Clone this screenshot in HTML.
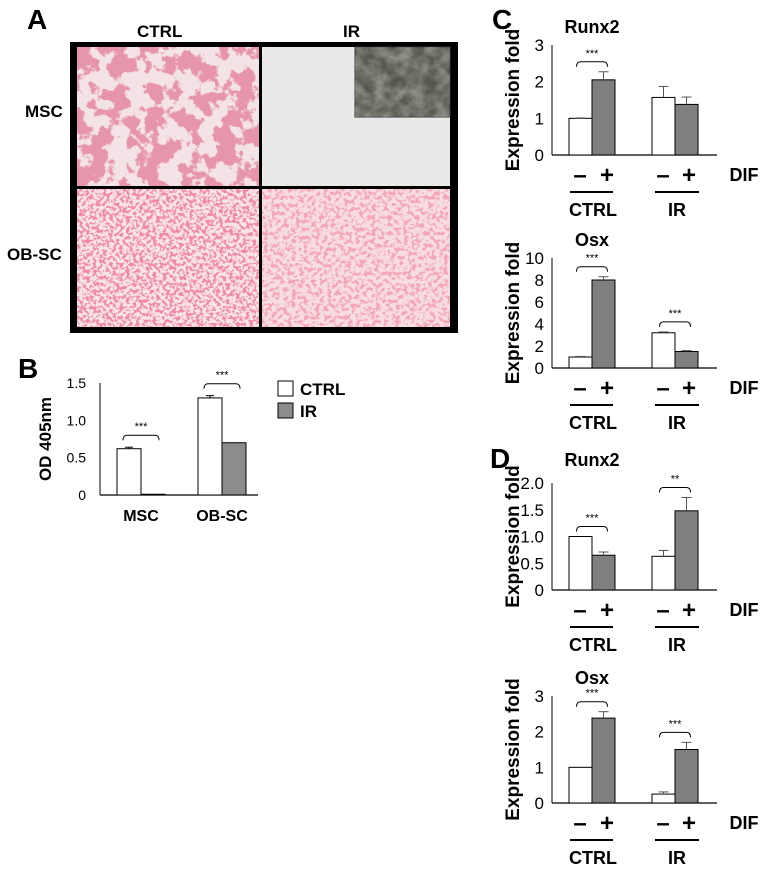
<!DOCTYPE html>
<html><head><meta charset="utf-8">
<style>
html,body{margin:0;padding:0;background:#fff;}
body{width:765px;height:894px;position:relative;overflow:hidden;font-family:"Liberation Sans",Arial,sans-serif;}
.abs{position:absolute;}
.lbl{position:absolute;font-weight:bold;color:#000;}
</style></head><body>
<div class="lbl" style="left:27px;top:4px;font-size:28px;">A</div>
<div class="lbl" style="left:137px;top:22px;font-size:17px;">CTRL</div>
<div class="lbl" style="left:343px;top:22px;font-size:17px;">IR</div>
<div class="lbl" style="left:25px;top:102px;font-size:17px;">MSC</div>
<div class="lbl" style="left:7px;top:245px;font-size:17px;">OB-SC</div>
<div class="abs" style="left:70px;top:42px;width:388px;height:291px;background:#000;"></div>

<svg width="765" height="894" style="position:absolute;left:0;top:0;" xmlns="http://www.w3.org/2000/svg">
  <defs>
    <filter id="blotch" x="0" y="0" width="100%" height="100%">
      <feTurbulence type="fractalNoise" baseFrequency="0.055" numOctaves="4" seed="3"/>
      <feColorMatrix type="matrix" values="0 0 0 0 0.80  0 0 0 0 0.30  0 0 0 0 0.41  16 0 0 0 -7.6"/>
    </filter>
    <filter id="speck1" x="0" y="0" width="100%" height="100%">
      <feTurbulence type="fractalNoise" baseFrequency="0.3" numOctaves="3" seed="7"/>
      <feColorMatrix type="matrix" values="0 0 0 0 0.88  0 0 0 0 0.25  0 0 0 0 0.37  10 0 0 0 -4.8"/>
    </filter>
    <filter id="speck2" x="0" y="0" width="100%" height="100%">
      <feTurbulence type="fractalNoise" baseFrequency="0.25" numOctaves="3" seed="11"/>
      <feColorMatrix type="matrix" values="0 0 0 0 0.91  0 0 0 0 0.38  0 0 0 0 0.47  8 0 0 0 -3.9"/>
    </filter>
    <filter id="grain" x="0" y="0" width="100%" height="100%">
      <feTurbulence type="fractalNoise" baseFrequency="0.08" numOctaves="3" seed="5"/>
      <feColorMatrix type="matrix" values="0 0 0 0 0.7  0 0 0 0 0.7  0 0 0 0 0.65  0.8 0 0 0 -0.2"/>
    </filter>
  </defs>
  <g>
    <rect x="77" y="47" width="182" height="139" fill="#f3e3e6"/>
    <rect x="77" y="47" width="182" height="139" filter="url(#blotch)"/>
  </g>
  <g>
    <rect x="262" y="47" width="188" height="139" fill="#ebe9e7"/>
  </g>
  <g>
    <rect x="355" y="47" width="95" height="70" fill="#55574f" stroke="#333" stroke-width="1"/>
    <rect x="355" y="47" width="95" height="70" filter="url(#grain)"/>
  </g>
  <g>
    <rect x="77" y="189" width="182" height="138" fill="#f7e4e8"/>
    <rect x="77" y="189" width="182" height="138" filter="url(#speck1)"/>
  </g>
  <g>
    <rect x="262" y="189" width="188" height="138" fill="#f6dde2"/>
    <rect x="262" y="189" width="188" height="138" filter="url(#speck2)"/>
  </g>
</svg>

<div class="lbl" style="left:18px;top:353px;font-size:28px;">B</div>
<div class="lbl" style="left:492px;top:4px;font-size:28px;">C</div>
<div class="lbl" style="left:490px;top:443px;font-size:28px;">D</div>

<svg id="svg" width="765" height="894" style="position:absolute;left:0;top:0;" xmlns="http://www.w3.org/2000/svg" font-family="Liberation Sans, Arial, sans-serif"></svg>

<script>
// Panel B data
const bCategories = ["MSC","OB-SC"];
const bCtrl = [0.62, 1.30];
const bCtrlErr = [0.02, 0.03];
const bIR = [0.01, 0.70];
const bIRErr = [0.005, 0];
const bTicks = [0, 0.5, 1.0, 1.5];
const bTickLabels = ["0","0.5","1.0","1.5"];
const bSig = ["***","***"];

// Panel C / D data: order [CTRL-, CTRL+, IR-, IR+]
const cRunx2 = [1.0, 2.05, 1.57, 1.38];
const cRunx2Err = [0.01, 0.22, 0.3, 0.2];
const cRunx2Ticks = [0,1,2,3];
const cRunx2TickLabels = ["0","1","2","3"];
const cRunx2Sig = ["***", ""];

const cOsx = [1.0, 8.0, 3.2, 1.5];
const cOsxErr = [0.05, 0.3, 0.08, 0.08];
const cOsxTicks = [0,2,4,6,8,10];
const cOsxTickLabels = ["0","2","4","6","8","10"];
const cOsxSig = ["***","***"];

const dRunx2 = [1.0, 0.65, 0.63, 1.48];
const dRunx2Err = [0, 0.06, 0.11, 0.25];
const dRunx2Ticks = [0,0.5,1.0,1.5,2.0];
const dRunx2TickLabels = ["0","0.5","1.0","1.5","2.0"];
const dRunx2Sig = ["***","**"];

const dOsx = [1.0, 2.38, 0.25, 1.5];
const dOsxErr = [0, 0.18, 0.06, 0.2];
const dOsxTicks = [0,1,2,3];
const dOsxTickLabels = ["0","1","2","3"];
const dOsxSig = ["***","***"];

const NS = "http://www.w3.org/2000/svg";
const svg = document.getElementById("svg");
function mk(tag, attrs, parent){
  const e = document.createElementNS(NS, tag);
  for (const k in attrs) e.setAttribute(k, attrs[k]);
  (parent||svg).appendChild(e);
  return e;
}
function txt(x,y,s,size,anchor,weight,parent){
  const t = mk("text",{x:x,y:y,"font-size":size,"text-anchor":anchor||"middle","font-weight":weight||"normal",fill:"#000"},parent);
  t.textContent = s;
  return t;
}
function bracket(x1,x2,y,stars,g){
  const p = mk("path",{d:`M${x1} ${y+5} Q${x1} ${y} ${x1+4} ${y} L${x2-4} ${y} Q${x2} ${y} ${x2} ${y+5}`,fill:"none",stroke:"#000","stroke-width":1},g);
  
  
  const t = txt((x1+x2)/2, y-5, stars, 11, "middle","normal",g);
  
  
}

// ---- Panel B ----
(function(){
  const g = mk("g",{});
  
  
  const y0 = 495, yTop = 383, maxV = 1.5;
  const yS = v => y0 - (y0 - yTop) * v / maxV;
  const axX = 100;
  const ax = mk("line",{x1:axX,y1:yTop,x2:axX,y2:y0,stroke:"#000","stroke-width":1},g);
   
  const bl = mk("line",{x1:axX,y1:y0,x2:258,y2:y0,stroke:"#000","stroke-width":1.2},g);
   
  bTicks.forEach((v,i)=>{
    const t = txt(86, yS(v)+5, bTickLabels[i], 14, "end","normal",g);
     
  });
  const yl = txt(0,0,"OD 405nm",17,"middle","bold",g);
  yl.setAttribute("transform",`translate(51,${(yTop+y0)/2}) rotate(-90)`);
   
  const groupX = [117, 198], w = 24;
  bCategories.forEach((c,i)=>{
    const xw = groupX[i], xg = xw + w;
    const r1 = mk("rect",{x:xw,y:yS(bCtrl[i]),width:w,height:y0-yS(bCtrl[i]),fill:"#fff",stroke:"#000","stroke-width":1},g);
     
    const r2 = mk("rect",{x:xg,y:yS(bIR[i]),width:w,height:Math.max(0.5,y0-yS(bIR[i])),fill:"#8c8c8c",stroke:"#000","stroke-width":1},g);
     
    if (bCtrlErr[i]>0){
      const cx = xw + w/2, ye = yS(bCtrl[i]+bCtrlErr[i]);
      mk("line",{x1:cx,y1:yS(bCtrl[i]),x2:cx,y2:ye,stroke:"#000"},g);
      mk("line",{x1:cx-4,y1:ye,x2:cx+4,y2:ye,stroke:"#000"},g);
    }
    const top = Math.max(bCtrl[i]+bCtrlErr[i], bIR[i]+bIRErr[i]);
    bracket(xw+w/2-6, xg+w/2+6, yS(top)-12, bSig[i], g);
    const cl = txt(xg, 521, c, 16, "middle","bold",g);
     
  });
  const lb1 = mk("rect",{x:278,y:381,width:15,height:15,fill:"#fff",stroke:"#000"},g);
   
  const lt1 = txt(300,395,"CTRL",17,"start","bold",g);
   
  const lb2 = mk("rect",{x:278,y:403,width:15,height:15,fill:"#8c8c8c",stroke:"#000"},g);
   
  const lt2 = txt(300,417,"IR",17,"start","bold",g);
   
})();

// ---- Expression charts ----
function exprChart(name, title, yTitle, yTop, y0, vals, errs, ticks, tickLabels, sig){
  const g = mk("g",{});
  
  
  const maxV = ticks[ticks.length-1];
  const yS = v => y0 - (y0 - yTop) * v / maxV;
  const axX = 552;
  const tt = txt(592, yTitle, title, 18, "middle","bold",g);
   
  const ax = mk("line",{x1:axX,y1:yTop,x2:axX,y2:y0,stroke:"#000","stroke-width":1},g);
   
  const bl = mk("line",{x1:axX,y1:y0,x2:717,y2:y0,stroke:"#000","stroke-width":1.2},g);
   
  ticks.forEach((v,i)=>{
    const t = txt(544, yS(v)+6, tickLabels[i], 17, "end","normal",g);
     
  });
  const yl = txt(0,0,"Expression fold",19,"middle","bold",g);
  yl.setAttribute("transform",`translate(519,${(yTop+y0)/2}) rotate(-90)`);
   
  const xs = [569, 592, 652, 675], w = 23;
  const names = ["ctrl-minus","ctrl-plus","ir-minus","ir-plus"];
  vals.forEach((v,i)=>{
    const r = mk("rect",{x:xs[i],y:yS(v),width:w,height:y0-yS(v),fill:i%2? "#7f7f7f":"#fff",stroke:"#000","stroke-width":1},g);
    
    
    if (errs[i]>0){
      const cx = xs[i]+w/2, ye = yS(v+errs[i]);
      mk("line",{x1:cx,y1:yS(v),x2:cx,y2:ye,stroke:"#555"},g);
      mk("line",{x1:cx-5,y1:ye,x2:cx+5,y2:ye,stroke:"#555"},g);
    }
  });
  [0,1].forEach(p=>{
    if (!sig[p]) return;
    const a = p*2, b = p*2+1;
    const top = Math.max(vals[a]+errs[a], vals[b]+errs[b]);
    bracket(xs[a]+w/2-4, xs[b]+w/2+4, yS(top)-10, sig[p], g);
  });
  const ySign = y0 + 28;
  [[580,"–"],[607,"+"],[663,"–"],[689,"+"]].forEach(s=>{
    const t = txt(s[0], ySign, s[1], 24, "middle","bold",g);
     
  });
  const d = txt(744, ySign-2, "DIF", 18, "middle","bold",g);
   
  const ul1 = mk("line",{x1:570,y1:y0+37,x2:613,y2:y0+37,stroke:"#000","stroke-width":2},g);
   
  const ul2 = mk("line",{x1:655,y1:y0+37,x2:699,y2:y0+37,stroke:"#000","stroke-width":2},g);
   
  const c1 = txt(593, y0+61, "CTRL", 18, "middle","bold",g);
   
  const c2 = txt(677, y0+61, "IR", 18, "middle","bold",g);
   
}
exprChart("panel-c-runx2-chart","Runx2",33,45,155,cRunx2,cRunx2Err,cRunx2Ticks,cRunx2TickLabels,cRunx2Sig);
exprChart("panel-c-osx-chart","Osx",246,258,368,cOsx,cOsxErr,cOsxTicks,cOsxTickLabels,cOsxSig);
exprChart("panel-d-runx2-chart","Runx2",466,483,590,dRunx2,dRunx2Err,dRunx2Ticks,dRunx2TickLabels,dRunx2Sig);
exprChart("panel-d-osx-chart","Osx",684,696,803,dOsx,dOsxErr,dOsxTicks,dOsxTickLabels,dOsxSig);
</script>
</body></html>
